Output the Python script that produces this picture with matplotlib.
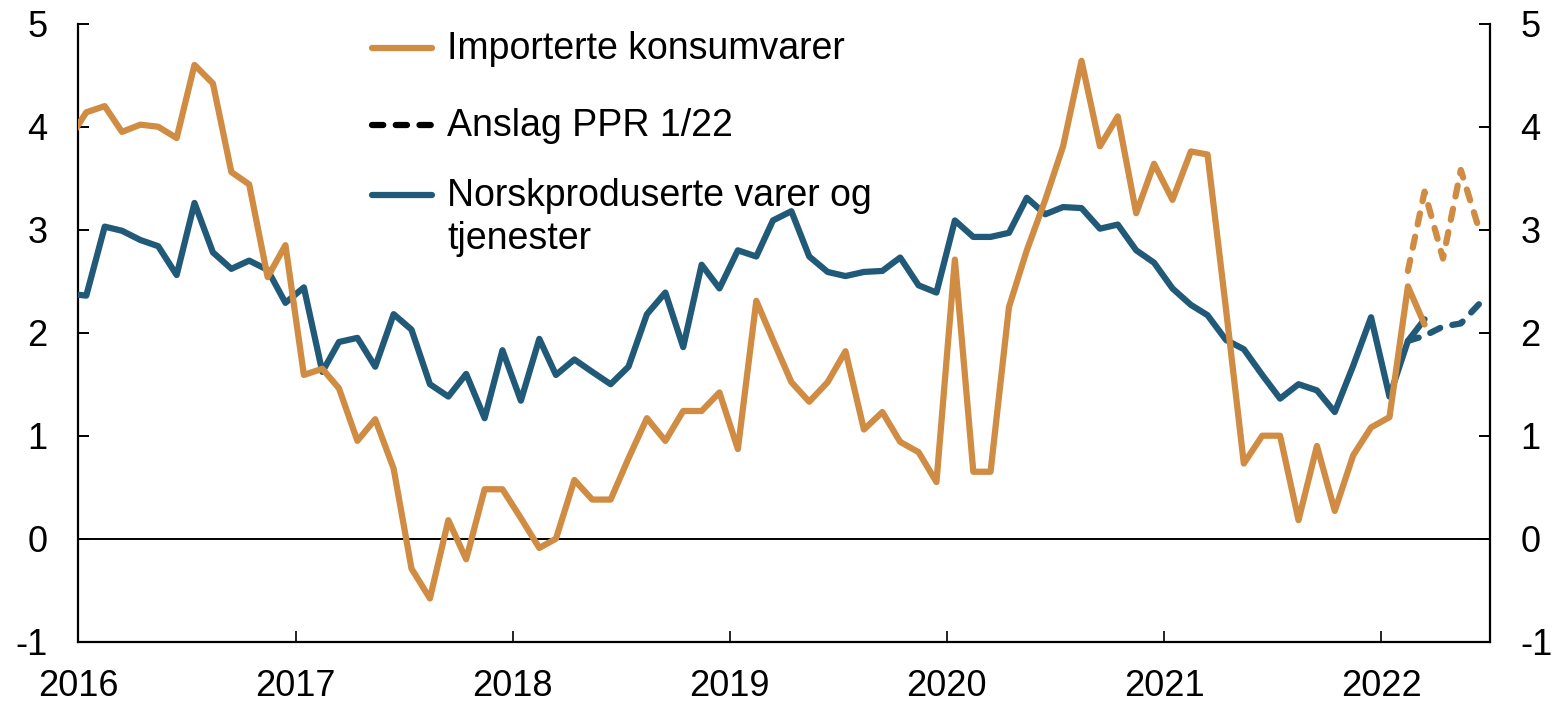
import pandas as pd
import matplotlib.pyplot as plt
from matplotlib.lines import Line2D

plt.rcParams['font.family'] = ['Liberation Sans', 'DejaVu Sans']

# Monthly values, Dec 2015 - Mar 2022 (plotted mid-month)
months = pd.date_range('2015-12-01', '2022-03-01', freq='MS') + pd.Timedelta(days=14)

importerte = [
    3.86,
    4.14, 4.20, 3.95, 4.02, 4.00, 3.89, 4.60, 4.42, 3.56, 3.44, 2.54, 2.85,
    1.59, 1.65, 1.46, 0.95, 1.16, 0.68, -0.29, -0.58, 0.18, -0.20, 0.48, 0.48,
    0.20, -0.09, 0.00, 0.57, 0.38, 0.38, 0.78, 1.17, 0.95, 1.24, 1.24, 1.42,
    0.87, 2.31, 1.93, 1.52, 1.33, 1.52, 1.82, 1.06, 1.23, 0.94, 0.84, 0.55,
    2.71, 0.65, 0.65, 2.25, 2.80, 3.29, 3.81, 4.64, 3.81, 4.10, 3.16, 3.64,
    3.29, 3.76, 3.73, 2.23, 0.73, 1.00, 1.00, 0.18, 0.90, 0.27, 0.81, 1.08,
    1.18, 2.45, 2.08,
]

norskproduserte = [
    2.38,
    2.36, 3.03, 2.99, 2.90, 2.84, 2.56, 3.26, 2.78, 2.62, 2.70, 2.61, 2.29,
    2.44, 1.62, 1.91, 1.95, 1.67, 2.18, 2.03, 1.50, 1.38, 1.60, 1.17, 1.83,
    1.34, 1.94, 1.59, 1.74, 1.62, 1.50, 1.67, 2.18, 2.39, 1.86, 2.66, 2.43,
    2.80, 2.74, 3.09, 3.18, 2.74, 2.59, 2.55, 2.59, 2.60, 2.73, 2.46, 2.39,
    3.09, 2.93, 2.93, 2.97, 3.31, 3.15, 3.22, 3.21, 3.01, 3.05, 2.80, 2.68,
    2.43, 2.27, 2.17, 1.93, 1.84, 1.59, 1.36, 1.50, 1.44, 1.23, 1.68, 2.15,
    1.38, 1.92, 2.13,
]

# PPR 1/22 projections, Feb - Jun 2022
anslag_months = pd.date_range('2022-02-01', '2022-06-01', freq='MS') + pd.Timedelta(days=14)
anslag_importerte = [2.60, 3.37, 2.72, 3.58, 3.00]
anslag_norsk = [1.92, 1.97, 2.06, 2.09, 2.28]

labels = ['Importerte konsumvarer', 'Anslag PPR 1/22', 'Norskproduserte varer og\ntjenester']
years = list(range(2016, 2023))
yticks = [-1, 0, 1, 2, 3, 4, 5]

orange = '#CF8C42'
blue = '#215A79'
lw = 4.5
dash = (1.8, 2.0)

W, H = 1553, 702
fig = plt.figure(figsize=(W / 100, H / 100), dpi=100)
ax = fig.add_axes([0.0502, 0.0859, 0.9092, 0.8803])

ax.axhline(0, color='black', lw=1.4, zorder=1)

ax.plot(months, norskproduserte, color=blue, lw=lw, solid_joinstyle='round', solid_capstyle='round', zorder=3)
ax.plot(months, importerte, color=orange, lw=lw, solid_joinstyle='round', solid_capstyle='round', zorder=4)
ax.plot(anslag_months, anslag_norsk, color=blue, lw=lw, dashes=dash, dash_capstyle='round', zorder=3)
ax.plot(anslag_months, anslag_importerte, color=orange, lw=lw, dashes=dash, dash_capstyle='round', zorder=4)

ax.set_xlim(pd.Timestamp('2016-01-01'), pd.Timestamp('2022-07-03'))
ax.set_ylim(-1, 5)
ax.set_xticks([pd.Timestamp(f'{y}-01-01') for y in years])
ax.set_xticklabels([str(y) for y in years])
ax.set_yticks(yticks)
ax.set_yticklabels([str(t) for t in yticks])

ax.spines['top'].set_visible(False)
for s in ['left', 'right', 'bottom']:
    ax.spines[s].set_linewidth(1.6)
ax.tick_params(axis='y', which='both', direction='in', length=8, width=1.4,
               left=True, right=True, labelleft=True, labelright=True,
               labelsize=26, pad=22)
ax.tick_params(axis='x', direction='in', length=8, width=1.2, labelsize=26, pad=20)

# legend drawn by hand so the handle sits on the first text line
handle_x = (372 / W, 432 / W)
text_x = 447 / W
rows = [(48, orange, None), (125, 'black', dash), (195, blue, None)]
for (ypix, col, ds), lab in zip(rows, labels):
    yf = 1 - ypix / H
    kw = dict(dashes=ds, dash_capstyle='round') if ds else dict(solid_capstyle='round')
    fig.add_artist(Line2D(handle_x, (yf, yf), color=col, lw=lw, transform=fig.transFigure, **kw))
    for i, line in enumerate(lab.split('\n')):
        fig.text(text_x, yf - (11 + 43 * i) / H, line, fontsize=27, ha='left', va='baseline')

fig.savefig('out.png', dpi=100)
